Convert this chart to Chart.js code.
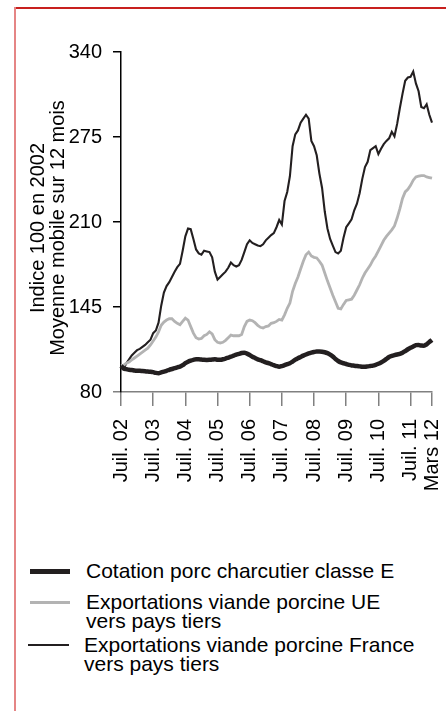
<!DOCTYPE html>
<html>
<head>
<meta charset="utf-8">
<script src="https://cdn.jsdelivr.net/npm/chart.js@4/dist/chart.umd.min.js"></script>
<style>
  html, body { margin:0; padding:0; background:#fff; }
  body { width:446px; height:711px; position:relative; overflow:hidden; font-family:'Liberation Sans', Arial, sans-serif; color:#000; }
  #frameTop { position:absolute; left:14px; top:7px; width:432px; height:2px; background:#c8201e; }
  #frameLeft { position:absolute; left:14px; top:7px; width:2px; height:704px; background:#e58585; }
  #wrap { position:absolute; left:0; top:0; width:446px; height:520px; }
  .lg-line { position:absolute; background:#231f20; }
  .lg-text { position:absolute; font-size:21px; line-height:18.5px; white-space:nowrap; }
</style>
</head>
<body>
<div id="frameTop"></div>
<div id="frameLeft"></div>
<div id="wrap"><canvas id="c" width="446" height="520"></canvas></div>

<div class="lg-line" style="left:30px; top:569px; width:40px; height:4.5px; background:#231f20;"></div>
<div class="lg-text" style="left:86px; top:562px;">Cotation porc charcutier classe E</div>

<div class="lg-line" style="left:30px; top:601px; width:40px; height:2.5px; background:#b3b3b3;"></div>
<div class="lg-text" style="left:86px; top:593px;">Exportations viande porcine UE<br>vers pays tiers</div>

<div class="lg-line" style="left:28px; top:644px; width:41px; height:2px; background:#231f20;"></div>
<div class="lg-text" style="left:84px; top:636px;">Exportations viande porcine France<br>vers pays tiers</div>

<script>
// ---- Data ----
const startYear = 2002, startMonth = 7, monthCount = 117; // Juil. 2002 .. Mars 2012
const categories = [];
for (let k = 0; k < monthCount; k++) {
  const m = (startMonth - 1 + k) % 12 + 1;
  const y = startYear + Math.floor((startMonth - 1 + k) / 12);
  categories.push(y + '-' + String(m).padStart(2, '0'));
}

const tickMonths = ['2002-07','2003-07','2004-07','2005-07','2006-07','2007-07','2008-07','2009-07','2010-07','2011-07','2012-03'];
const tickLabels = ['Juil. 02','Juil. 03','Juil. 04','Juil. 05','Juil. 06','Juil. 07','Juil. 08','Juil. 09','Juil. 10','Juil. 11','Mars 12'];
const yTicks = [80, 145, 210, 275, 340];
const yTitleLines = ['Indice 100 en 2002', 'Moyenne mobile sur 12 mois'];

const seriesNames = [
  'Cotation porc charcutier classe E',
  'Exportations viande porcine UE vers pays tiers',
  'Exportations viande porcine France vers pays tiers'
];

const cotation = [
  100, 98, 97.5, 97, 96.8, 96.5, 96.3, 96.2, 96, 95.8, 95.6, 95.5,
  95.2, 94.6, 94.3, 95, 95.6, 96.2, 97, 97.6, 98.2, 98.9, 99.4, 100.5,
  102, 103.2, 104, 104.6, 105, 105, 104.8, 104.6, 104.5, 104.6, 104.8, 105,
  104.7, 104.6, 105, 105.6, 106.3, 107, 107.8, 108.6, 109.2, 109.8, 110.1, 109.3,
  108.3, 107, 106, 105, 104.3, 103.5, 102.7, 102.1, 101.3, 100.5, 99.8, 99.4,
  99.8, 100.5, 101.3, 102, 103.3, 104.7, 105.8, 106.8, 107.8, 108.7, 109.5, 110.1,
  110.6, 110.9, 110.9, 110.8, 110.4, 109.7, 108.6, 107.2, 105.2, 103.7, 102.6, 102,
  101.4, 100.8, 100.3, 100.1, 99.8, 99.6, 99.4, 99.4, 99.6, 99.9, 100.2, 100.8,
  101.6, 102.6, 103.8, 105.3, 106.8, 107.6, 108.2, 108.7, 109.1, 110, 111.3, 112.7,
  113.8, 114.8, 115.8, 116, 115.5, 115.4, 116.5, 118.2, 119.8
];

const exportsUE = [
  100, 100.5, 102, 103, 104.5, 106, 107.5, 109, 110.5, 112, 113.5, 116,
  119, 122, 126, 131, 133.5, 135, 136, 136, 134, 132.5, 131.5, 134,
  136.5, 135, 130, 125, 121.5, 120.5, 121, 123, 124, 126, 124.5, 120,
  118, 117.5, 118, 119.5, 121.5, 123.5, 123, 123, 123, 124, 130, 134,
  135, 134.5, 133, 131, 129.5, 129, 130, 130.5, 132.5, 133, 134, 135.5,
  135, 139, 144, 148, 157, 163, 168, 174, 180, 185, 187, 184,
  183, 182.5, 180, 177, 171, 165, 159.5, 154, 149, 144, 143.5, 147,
  150, 150.5, 151, 154, 158, 162, 167, 171, 174, 177, 181, 184,
  188, 192, 196, 199, 201.5, 204, 207, 213, 220, 228, 233, 235,
  238, 242, 244.5, 245, 245.5, 245.5, 244.5, 244, 243.5
];

const exportsFrance = [
  100, 98, 102, 105, 108, 110, 112, 113, 114.5, 116, 118, 120,
  125, 127, 133, 146, 156, 161, 164, 168, 172, 175.5, 178, 188,
  199, 205, 204.5, 197, 189, 186, 185, 188, 187.5, 187, 183, 172,
  166, 168, 170, 172, 175, 179, 177, 176, 177, 181, 187, 193,
  196, 194, 193, 192, 191.5, 193, 196, 198, 200, 201.5, 206, 211.5,
  208, 226, 233, 245, 268, 277, 280, 286, 289, 292, 289, 272,
  268, 261, 247, 236, 218, 205, 197, 192, 187, 186, 188, 198,
  206, 209, 212, 219, 224, 232, 243, 252, 256, 265, 266.5, 268,
  262, 266, 269.5, 272, 274, 279, 275.5, 285, 297, 308, 318, 320.5,
  321, 325, 316, 310, 298, 297, 300, 292, 286
];

// ---- Chart ----
const FONT = "'Liberation Sans', Arial, Helvetica, sans-serif";
Chart.defaults.font.family = FONT;
Chart.defaults.color = '#000';

// Draws the two-line rotated y-axis title, centred on the axis the way the reference is.
const yTitlePlugin = {
  id: 'yTitle',
  afterDraw(chart) {
    const ctx = chart.ctx;
    const a = chart.chartArea;
    ctx.save();
    ctx.font = '20px ' + FONT;
    ctx.fillStyle = '#000';
    ctx.textAlign = 'center';
    ctx.textBaseline = 'middle';
    const cy = (a.top + a.bottom) / 2 + 6;
    yTitleLines.forEach((t, i) => {
      ctx.save();
      ctx.translate(38 + i * 20, cy);
      ctx.rotate(-Math.PI / 2);
      ctx.fillText(t, 0, 0);
      ctx.restore();
    });
    ctx.restore();
  }
};

new Chart(document.getElementById('c'), {
  type: 'line',
  data: {
    labels: categories,
    datasets: [
      { label: seriesNames[0], data: cotation, borderColor: '#231f20', borderWidth: 4.5,
        pointRadius: 0, tension: 0.4, cubicInterpolationMode: 'monotone', fill: false },
      { label: seriesNames[1], data: exportsUE, borderColor: '#b3b3b3', borderWidth: 2.8,
        pointRadius: 0, tension: 0, fill: false },
      { label: seriesNames[2], data: exportsFrance, borderColor: '#231f20', borderWidth: 2.1,
        pointRadius: 0, tension: 0, fill: false }
    ]
  },
  plugins: [yTitlePlugin],
  options: {
    responsive: false,
    animation: false,
    devicePixelRatio: 1,
    layout: { padding: { top: 52, right: 14, bottom: 0, left: 0 } },
    plugins: { legend: { display: false }, tooltip: { enabled: false } },
    scales: {
      x: {
        type: 'category',
        offset: false,
        border: { display: true, color: '#808080', width: 1.5 },
        grid: { drawOnChartArea: false, drawTicks: true, tickLength: 14, color: '#808080', lineWidth: 1.5 },
        ticks: {
          autoSkip: false, minRotation: 90, maxRotation: 90, padding: 13,
          color: '#000', font: { size: 20, family: FONT },
          callback: function (value, index) {
            const k = tickMonths.indexOf(categories[index]);
            return k >= 0 ? tickLabels[k] : null;
          }
        },
        afterFit: function (s) { s.height = 128; s.paddingLeft = 0; s.paddingRight = 0; }
      },
      y: {
        min: yTicks[0], max: yTicks[yTicks.length - 1],
        afterBuildTicks: function (s) { s.ticks = yTicks.map(v => ({ value: v })); },
        border: { display: true, color: '#000', width: 1.5 },
        grid: { drawOnChartArea: false, drawTicks: true, tickLength: 8, lineWidth: 1.5,
                color: (c) => (c.tick && c.tick.value === 80) ? '#808080' : '#000' },
        ticks: { padding: 11, color: '#000', font: { size: 20, family: FONT } },
        title: { display: false },
        afterFit: function (s) { s.width = 121; }
      }
    }
  }
});
</script>
</body>
</html>
